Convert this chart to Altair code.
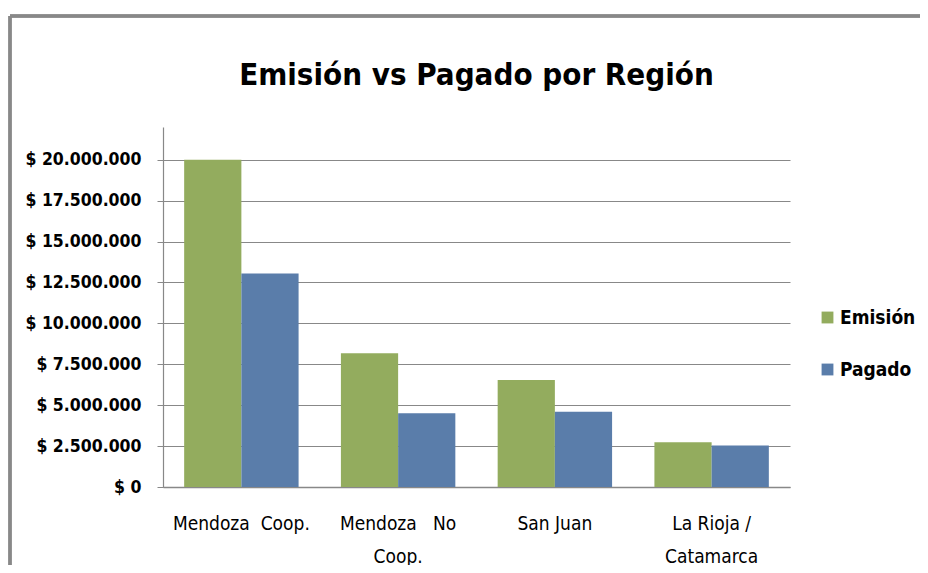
import altair as alt
import pandas as pd

categories = ["Mendoza\u00a0\u00a0Coop.", "Mendoza\u00a0\u00a0\u00a0No|Coop.", "San Juan", "La Rioja /|Catamarca"]
series = ["Emisión", "Pagado"]
emision = [20000000, 8180000, 6540000, 2730000]
pagado = [13050000, 4500000, 4600000, 2530000]
y_ticks = [0, 2500000, 5000000, 7500000, 10000000, 12500000, 15000000, 17500000, 20000000]
colors = ["#93AC5E", "#5A7DAA"]

rows = []
for c, e, p in zip(categories, emision, pagado):
    rows.append({"region": c, "serie": series[0], "valor": e})
    rows.append({"region": c, "serie": series[1], "valor": p})
df = pd.DataFrame(rows)

FONT = "DejaVu Sans Condensed, Open Sans, sans-serif"

bars = alt.Chart(df).mark_bar().encode(
    x=alt.X("region:N", sort=categories, title=None,
            scale=alt.Scale(paddingInner=0.27, paddingOuter=0.135),
            axis=alt.Axis(labelExpr="split(datum.label, '|')", labelAngle=0,
                          labelFont=FONT, labelFontSize=19, labelColor="#000",
                          labelPadding=36, labelLineHeight=33,
                          ticks=False, domainColor="#888", domainWidth=1.5,
                          labelBaseline="middle")),
    xOffset=alt.XOffset("serie:N", sort=series),
    y=alt.Y("valor:Q", title=None,
            scale=alt.Scale(domain=[0, 22000000], nice=False),
            axis=alt.Axis(values=y_ticks,
                          labelExpr="'$ ' + replace(format(datum.value, ','), regexp(',', 'g'), '.')",
                          labelFont=FONT, labelFontSize=17.5, labelFontWeight="bold",
                          labelColor="#000", labelPadding=16,
                          tickSize=6, tickColor="#888", grid=True, gridColor="#888",
                          gridWidth=1.2, domainColor="#888", domainWidth=1.2)),
    color=alt.Color("serie:N", sort=series,
                    scale=alt.Scale(domain=series, range=colors),
                    legend=alt.Legend(title=None, orient="none", legendX=655, legendY=181,
                                      symbolType="square", symbolSize=140,
                                      symbolStrokeWidth=0,
                                      labelFont=FONT, labelFontSize=19,
                                      labelFontWeight="bold", labelColor="#000",
                                      rowPadding=32, labelOffset=3)),
)

frame_top = alt.Chart(df).mark_rule(color="#888", strokeWidth=2.5).encode(
    x=alt.value(-153), x2=alt.value(800), y=alt.value(-111))
frame_left = alt.Chart(df).mark_rule(color="#888", strokeWidth=2.5).encode(
    x=alt.value(-153), y=alt.value(-111), y2=alt.value(500))

chart = alt.layer(frame_top, frame_left, bars).properties(
    width=627, height=360,
    autosize=alt.AutoSizeParams(type="none"),
    padding={"left": 155, "top": 119, "right": 130, "bottom": 78},
    title=alt.Title("Emisión vs Pagado por Región", font=FONT, fontSize=31,
                    fontWeight="bold", color="#000", anchor="middle",
                    baseline="alphabetic", offset=-101),
).configure(background="white").configure_view(stroke=None)

chart.save("out.html", embed_options={"renderer": "svg", "actions": False})
